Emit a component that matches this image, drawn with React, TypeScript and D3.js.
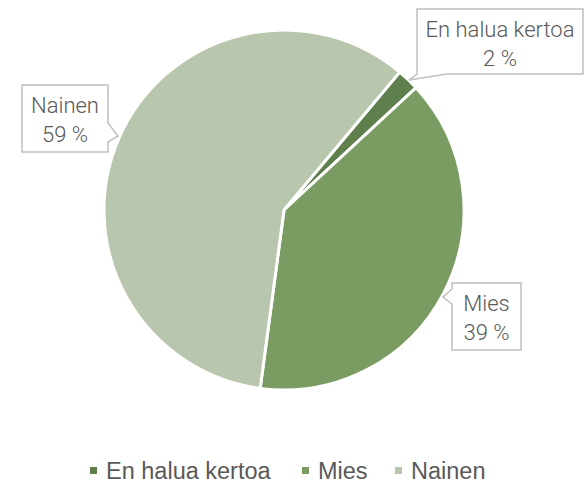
import React from "react";
import * as d3 from "d3";

const categories = ["En halua kertoa", "Mies", "Nainen"];
const values = [2, 39, 59];
const labels = ["2 %", "39 %", "59 %"];
const colors = ["#5f7f4c", "#7a9c62", "#b9c6ae"];

const W = 584;
const H = 484;
const cx = 284;
const cy = 210;
const R = 180;
const startDeg = 40;

// callout boxes: [x0,y0,x1,y1], pointer tip, side
const boxes = [
  { x0: 417, y0: 9, x1: 583, y1: 74, side: "bottom", tip: [409, 80], a: 417, b: 447 },
  { x0: 452, y0: 283, x1: 521, y1: 350, side: "left", tip: [443, 297], a: 289, b: 304 },
  { x0: 22, y0: 85, x1: 108, y1: 152, side: "right", tip: [118, 136], a: 123, b: 142 },
];

function calloutPath(bx: any) {
  const { x0, y0, x1, y1, side, tip, a, b } = bx;
  if (side === "bottom") {
    return `M${x0},${y0}H${x1}V${y1}H${b}L${tip[0]},${tip[1]}L${a},${y1}Z`;
  }
  if (side === "left") {
    return `M${x0},${y0}H${x1}V${y1}H${x0}V${b}L${tip[0]},${tip[1]}L${x0},${a}Z`;
  }
  return `M${x0},${y0}H${x1}V${a}L${tip[0]},${tip[1]}L${x1},${b}V${y1}H${x0}Z`;
}

const legendX = [90, 302, 395];

export default function App() {
  const pie = d3
    .pie<number>()
    .sort(null)
    .value((d) => d)
    .startAngle((startDeg * Math.PI) / 180)
    .endAngle((startDeg * Math.PI) / 180 + 2 * Math.PI);
  const arcs = pie(values);
  const arc = d3.arc<d3.PieArcDatum<number>>().innerRadius(0).outerRadius(R);

  return (
    <svg width={W} height={H} style={{ position: "absolute", left: 0, top: 0 }}>
      <rect width={W} height={H} fill="#ffffff" />
      <g transform={`translate(${cx},${cy})`}>
        {arcs.map((a, i) => (
          <path key={i} d={arc(a) || ""} fill={colors[i]} stroke="#ffffff" strokeWidth={3} strokeLinejoin="miter" />
        ))}
      </g>
      {boxes.map((bx, i) => {
        const mx = (bx.x0 + bx.x1) / 2;
        const top = bx.y0 + 28;
        return (
          <g key={i}>
            <path d={calloutPath(bx)} fill="#ffffff" stroke="#bfbfbf" strokeWidth={1.5} />
            <text
              x={mx}
              y={top}
              textAnchor="middle"
              fontFamily="Roboto"
              fontWeight={300}
              fontSize={22}
              fill="#595959"
            >
              <tspan x={mx} dy={0}>{categories[i]}</tspan>
              <tspan x={mx} dy={28.5}>{labels[i]}</tspan>
            </text>
          </g>
        );
      })}
      <g>
        {categories.map((c, i) => (
          <g key={c}>
            <rect x={legendX[i]} y={467} width={7} height={7} fill={colors[i]} />
            <text
              x={legendX[i] + 16}
              y={479}
              fontFamily="Liberation Sans, Arial, sans-serif"
              fontSize={23.5}
              fill="#595959"
            >
              {c}
            </text>
          </g>
        ))}
      </g>
    </svg>
  );
}
